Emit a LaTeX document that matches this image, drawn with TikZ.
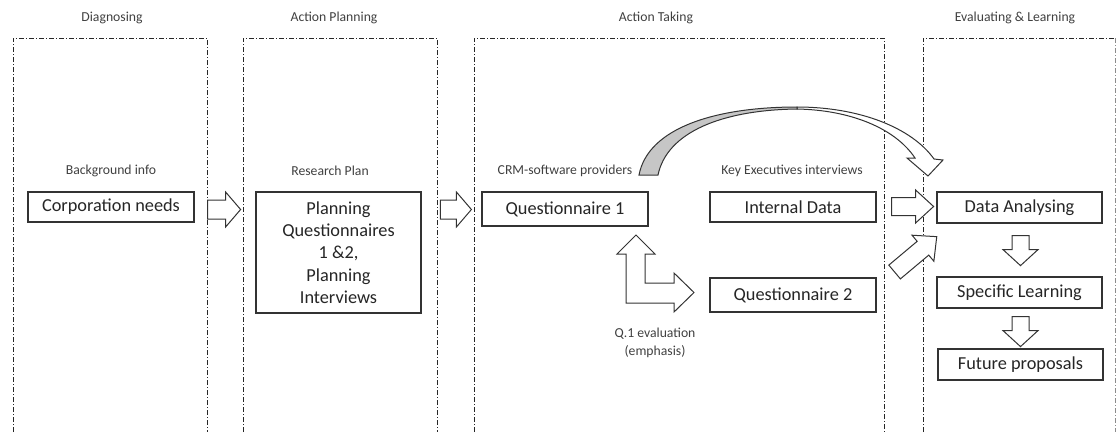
\documentclass[tikz,border=0pt]{standalone}
\usepackage{fontspec}
\setmainfont{Carlito}
\usetikzlibrary{calc}
\definecolor{ink}{HTML}{404040}
\definecolor{frame}{HTML}{333333}

% block arrow: #1 tail point, #2 angle, #3 length, #4 shaft half width,
% #5 head half width, #6 head length (all in pt)
\newcommand\blockarrow[6]{%
  \draw[barrow,shift={#1},rotate=#2]
    (0pt,#4pt) -- ({#3pt-#6pt},#4pt) -- ({#3pt-#6pt},#5pt) -- (#3pt,0pt)
    -- ({#3pt-#6pt},-#5pt) -- ({#3pt-#6pt},-#4pt) -- (0pt,-#4pt) -- cycle;}

\begin{document}
\begin{tikzpicture}[x=1pt,y=-1pt,
  big/.style={font=\fontsize{18.3}{22.3}\selectfont},
  small/.style={font=\fontsize{13.7}{18}\selectfont, text=ink},
  box/.style={draw=frame, line width=1.2pt, fill=white, text=black!85, big,
    inner sep=0pt, minimum width=166pt, minimum height=31pt},
  panel/.style={draw=black!85, line width=0.9pt,
    dash pattern=on 5pt off 2pt on 1pt off 2pt},
  barrow/.style={draw=frame, line width=1pt, fill=white, line join=miter},
]
\useasboundingbox (0,0) rectangle (1117,432);

% phase frames, open at the bottom
\draw[panel] (13,432) |- (207,38) -- (207,432);
\draw[panel] (243,432) |- (437,38) -- (437,432);
\draw[panel] (474,432) |- (884,38) -- (884,432);
\draw[panel] (923,432) |- (1115,38);
\draw[panel, draw=black!45] (1115,38) -- (1115,432);

% phase titles
\node[small] (t1) at (112,18) {Diagnosing};
\node[small] (t2) at (334,18) {Action Planning};
\node[small] (t3) at (656,18) {Action Taking};
\node[small] (t4) at (1015,18) {Evaluating \& Learning};

% step labels
\node[small] (l1) at (111,171) {Background info};
\node[small] (l2) at (330,171) {Research Plan};
\node[small] (l3) at (565,171) {CRM-software providers};
\node[small] (l4) at (792,171) {Key Executives interviews};
\node[small, align=center] (l5) at (655,343) {Q.1 evaluation\\(emphasis)};

% boxes
\node[box, minimum height=30pt] (corp) at (111,207) {Corporation needs};
\node[box, minimum width=165pt, minimum height=121pt, align=center]
  (plan) at (338.5,252.5) {Planning\\Questionnaires\\1 \&2,\\Planning\\Interviews};
\node[box, minimum height=34pt] (q1) at (565,209) {Questionnaire 1};
\node[box, minimum height=30pt] (idata) at (793,207) {Internal Data};
\node[box, minimum height=34pt] (q2) at (793,295) {Questionnaire 2};
\node[box, minimum width=165pt] (danal) at (1019.5,207.5) {Data Analysing};
\node[box, minimum width=165pt] (slearn) at (1019.5,292.5) {Specific Learning};
\node[box, minimum width=165pt] (future) at (1020.5,364.5) {Future proposals};

% straight block arrows between the boxes
\blockarrow{($(corp.east)+(13,2.5)$)}{0}{33}{9.5}{17.5}{15}
\blockarrow{($(q1.west)+(-41,0.5)$)}{0}{31}{9.5}{17.5}{15}
\blockarrow{($(idata.east)+(15,-0.5)$)}{0}{42}{9}{16.5}{18}
\blockarrow{($(q2.east)+(18,-23)$)}{40}{55}{9}{17}{18}
\blockarrow{($(danal.south)+(1,12)$)}{-90}{30}{8.5}{17.5}{16}
\blockarrow{($(slearn.south)+(1,8)$)}{-90}{30}{8.5}{17.5}{16}

% bent arrow from Questionnaire 1 to Questionnaire 2
\draw[barrow] (636,235) -- (655,254) -- (645,254) -- (645,283) -- (674,283)
  -- (674,273) -- (694,292.5) -- (674,312) -- (674,303) -- (626,303)
  -- (626,254) -- (617,254) -- cycle;

% curved arrow from Questionnaire 1 over to Data Analysing
\draw[barrow] (797,107) .. controls (860,107) and (912,128) .. (934,159)
  -- (943,160) -- (928,176) -- (907,158) -- (915,158)
  .. controls (895,128) and (850,110) .. (797,109) -- cycle;
\draw[barrow, fill=gray!45] (639,175) .. controls (648,128) and (715,107) .. (797,107)
  -- (797,109) .. controls (722,110) and (667,132) .. (658,175) -- cycle;
\end{tikzpicture}
\end{document}
